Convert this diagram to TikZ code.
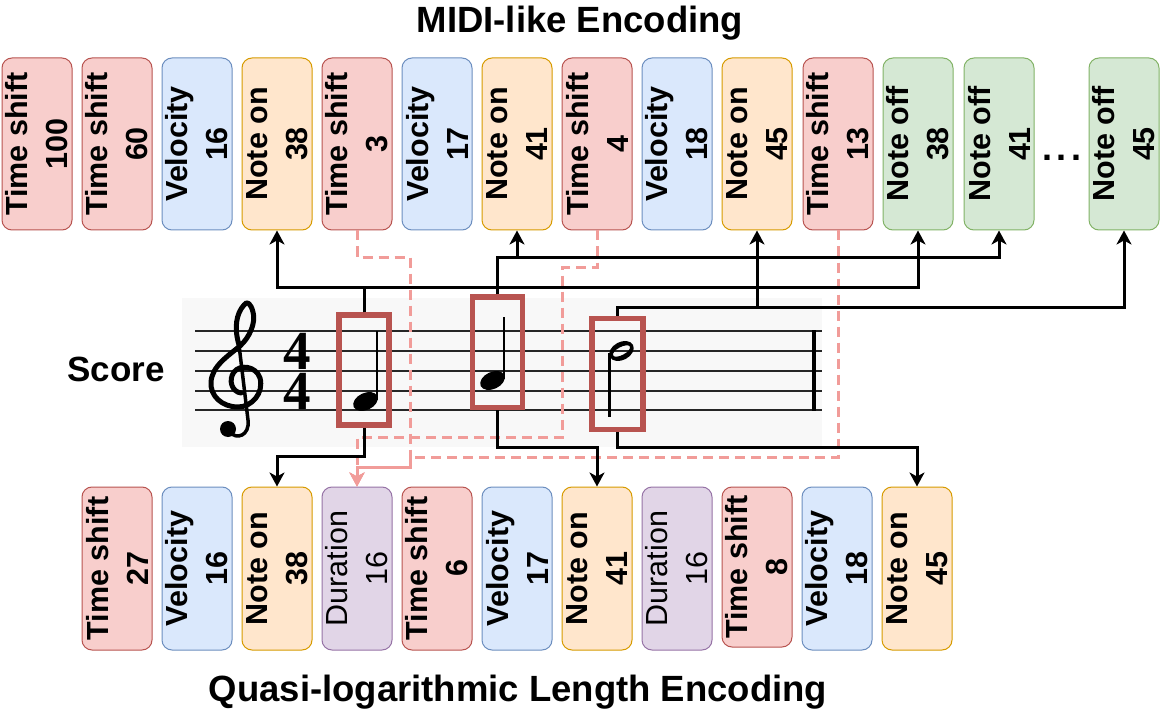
\documentclass[tikz,border=0pt]{standalone}
\usepackage{fontspec}
\setmainfont{Liberation Sans}
\newfontfamily\musicserif{Liberation Serif}
\usetikzlibrary{arrows.meta}
\definecolor{redF}{HTML}{F8CECC}\definecolor{redS}{HTML}{B85450}
\definecolor{bluF}{HTML}{DAE8FC}\definecolor{bluS}{HTML}{6C8EBF}
\definecolor{orgF}{HTML}{FFE6CC}\definecolor{orgS}{HTML}{D79B00}
\definecolor{grnF}{HTML}{D5E8D4}\definecolor{grnS}{HTML}{82B366}
\definecolor{purF}{HTML}{E1D5E7}\definecolor{purS}{HTML}{9673A6}
\definecolor{pinkL}{HTML}{F19C99}
\definecolor{noteRed}{HTML}{B85450}
\definecolor{scoreBg}{HTML}{F8F8F8}
\begin{document}
\begin{tikzpicture}[x=1pt,y=-1pt,
  tok/.style={rotate=90, rounded corners=10pt, line width=1pt, align=center, inner sep=0pt, minimum height=70pt, font=\fontsize{30.5}{40}\selectfont\bfseries},
  toptok/.style={tok, minimum width=172pt},
  bottok/.style={tok, minimum width=163pt},
  tsr/.style={fill=redF, draw=redS},
  vel/.style={fill=bluF, draw=bluS},
  non/.style={fill=orgF, draw=orgS},
  noff/.style={fill=grnF, draw=grnS},
  dur/.style={fill=purF, draw=purS, font=\fontsize{30.5}{40}\selectfont},
  notebox/.style={draw=noteRed, line width=5.5pt, inner sep=0pt},
  conn/.style={line width=3pt, -{Stealth[length=14pt,width=15pt,inset=4pt]}},
  dconn/.style={draw=pinkL, line width=3pt, dash pattern=on 10pt off 6pt, -{Stealth[length=14pt,width=15pt,inset=4pt]}},
  ttl/.style={font=\fontsize{36.5}{36.5}\selectfont\bfseries, anchor=base, inner sep=0pt},
  staff/.style={line width=2.5pt, black!85},
  tsig/.style={inner sep=0pt, align=center, font=\musicserif\bfseries\fontsize{55}{40}\selectfont}
]
\fill[white] (0,0) rectangle (1162,714);
\useasboundingbox (0,0) rectangle (1162,714);

% titles
\node[ttl] (title1) at (580,33) {MIDI-like Encoding};
\node[ttl] (title2) at (518,701) {Quasi-logarithmic Length Encoding};
\node[font=\fontsize{35}{35}\selectfont\bfseries, anchor=base, inner sep=0pt] (scorelbl) at (116,381) {Score};

% top row
\node[toptok,tsr]  (t1)  at (37,144)  {Time shift\\100};
\node[toptok,tsr]  (t2)  at (117,144) {Time shift\\60};
\node[toptok,vel]  (t3)  at (197,144) {Velocity\\16};
\node[toptok,non]  (t4)  at (277,144) {Note on\\38};
\node[toptok,tsr]  (t5)  at (357,144) {Time shift\\3};
\node[toptok,vel]  (t6)  at (437,144) {Velocity\\17};
\node[toptok,non]  (t7)  at (517,144) {Note on\\41};
\node[toptok,tsr]  (t8)  at (597,144) {Time shift\\4};
\node[toptok,vel]  (t9)  at (677,144) {Velocity\\18};
\node[toptok,non]  (t10) at (757,144) {Note on\\45};
\node[toptok,tsr]  (t11) at (838,144) {Time shift\\13};
\node[toptok,noff] (t12) at (918,144) {Note off\\38};
\node[toptok,noff] (t13) at (999,144) {Note off\\41};
\node[toptok,noff] (t14) at (1124,144) {Note off\\45};
\node[font=\fontsize{36}{36}\selectfont\bfseries, anchor=base, inner sep=0pt] (dots) at (1062,160.5) {.\hspace{5pt}.\hspace{5pt}.};

% bottom row
\node[bottok,tsr] (b1)  at (117,568.5) {Time shift\\27};
\node[bottok,vel] (b2)  at (197,568.5) {Velocity\\16};
\node[bottok,non] (b3)  at (277,568.5) {Note on\\38};
\node[bottok,dur] (b4)  at (357,568.5) {Duration\\16};
\node[bottok,tsr] (b5)  at (437,568.5) {Time shift\\6};
\node[bottok,vel] (b6)  at (517,568.5) {Velocity\\17};
\node[bottok,non] (b7)  at (597,568.5) {Note on\\41};
\node[bottok,dur] (b8)  at (677,568.5) {Duration\\16};
\node[tok,tsr,minimum width=160pt] (b9) at (757,567) {Time shift\\8};
\node[bottok,vel] (b10) at (837,568.5) {Velocity\\18};
\node[bottok,non] (b11) at (917,568.5) {Note on\\45};

% score
\fill[scoreBg] (182,298) rectangle (822,447);
\foreach \yy in {331,351,371,391,410} \draw[staff] (195,\yy) -- (822,\yy);
\draw[line width=4.5pt] (814,330) -- (814,411);
% treble clef
\begin{scope}[line width=5pt, line cap=round, line join=round]
\draw (241,393) .. controls (232,392) and (228,380) .. (234,372)
  .. controls (240,364) and (256,366) .. (260,378)
  .. controls (264,393) and (252,407) .. (238,407)
  .. controls (222,407) and (210,396) .. (211,382)
  .. controls (212,366) and (228,356) .. (240,346)
  .. controls (250,337) and (256,322) .. (253,312)
  .. controls (251,304) and (247,300) .. (244,305)
  .. controls (236,314) and (234,328) .. (239,345);
\draw[line width=3.5pt] (239,345) -- (248,420)
  .. controls (250,436) and (236,440) .. (230,432);
\end{scope}
\fill (228,429) circle (8);
% time signature
\node[tsig] (ts) at (297,371) {4\\4};
% notes
\fill[rotate around={25:(365.5,401.5)}] (365.5,401.5) ellipse [x radius=13, y radius=8.5];
\draw[line width=2.5pt] (377.2,400) -- (377.2,331);
\fill[rotate around={25:(492.5,380.5)}] (492.5,380.5) ellipse [x radius=13, y radius=8.5];
\draw[line width=2.5pt] (504.2,379) -- (504.2,317);
\fill[even odd rule, rotate around={28:(621.5,351)}] (621.5,351) ellipse [x radius=13, y radius=9] (621.5,351) ellipse [x radius=9.5, y radius=4];
\draw[line width=2.5pt] (609.3,353) -- (609.3,417);

\node[notebox, minimum width=50pt, minimum height=110pt] (n1) at (364.2,370) {};
\node[notebox, minimum width=50pt, minimum height=110.7pt] (n2) at (497.5,352.2) {};
\node[notebox, minimum width=51.4pt, minimum height=111pt] (n3) at (617.5,374) {};

% turn levels
\coordinate (hA) at (0,287);
\coordinate (hB) at (0,257);
\coordinate (hC) at (0,307);
\coordinate (lA) at (0,456);
\coordinate (lB) at (0,447);
\coordinate (p1) at (410,257);
\coordinate (p2) at (410,467);
\coordinate (p3) at (562,267);
\coordinate (p4) at (562,437);
\coordinate (p5) at (410,457);

% dashed pink connectors
\draw[dconn] (t5.west) |- (p1) -- (p2) -| (b4.east);
\draw[dconn] (t8.west) |- (p3) -- (p4) -| (b4.east);
\draw[dconn] (t11.west) |- (p5) -- (p2) -| (b4.east);

% black connectors
\draw[conn] (n1.north) -- (n1.north |- hA) -| (t4.west);
\draw[conn] (n1.north) -- (n1.north |- hA) -| (t12.west);
\draw[conn] (n2.north) -- (n2.north |- hB) -| (t7.west);
\draw[conn] (n2.north) -- (n2.north |- hB) -| (t13.west);
\draw[conn] (n3.north) -- (n3.north |- hC) -| (t10.west);
\draw[conn] (n3.north) -- (n3.north |- hC) -| (t14.west);
\draw[conn] (n1.south) -- (n1.south |- lA) -| (b3.east);
\draw[conn] (n2.south) -- (n2.south |- lB) -| (b7.east);
\draw[conn] (n3.south) -- (n3.south |- lB) -| (b11.east);
\end{tikzpicture}
\end{document}
